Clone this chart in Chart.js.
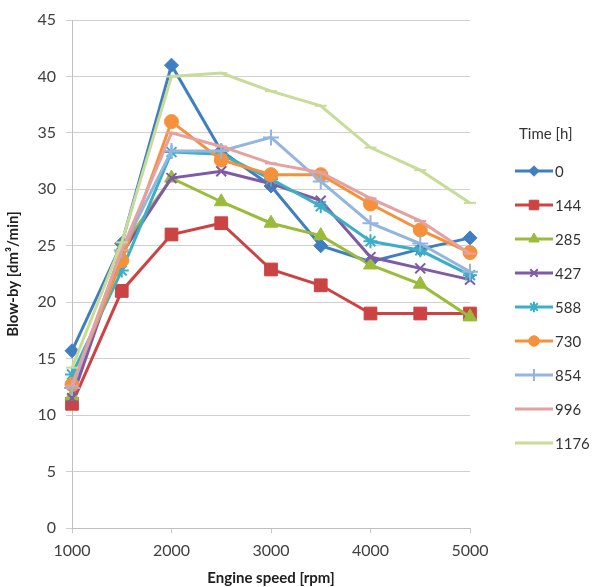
<!DOCTYPE html>
<html lang="en">
<head>
    <meta charset="UTF-8">
    <title>Blow-by</title>
    <script src="https://cdn.jsdelivr.net/npm/chart.js"></script>
    <style>
        html, body { margin: 0; padding: 0; background: #ffffff; }
        #wrap { width: 596px; height: 587px; position: relative; }
    </style>
</head>
<body>
<div id="wrap"><canvas id="blowbyChart" width="596" height="587"></canvas></div>
<script>
    // engine speed (rpm) and blow-by values per test time
    const speeds = [1000, 1500, 2000, 2500, 3000, 3500, 4000, 4500, 5000];
    const times = ['0', '144', '285', '427', '588', '730', '854', '996', '1176'];

    const h0    = [15.7, 25.2, 41.0, 33.4, 30.3, 25.0, 23.6, 24.7, 25.7];
    const h144  = [11.0, 21.0, 26.0, 27.0, 22.9, 21.5, 19.0, 19.0, 19.0];
    const h285  = [11.7, 24.8, 31.0, 28.9, 27.0, 25.9, 23.3, 21.6, 18.7];
    const h427  = [11.5, 24.3, 31.0, 31.6, 30.5, 29.0, 24.0, 23.0, 22.0];
    const h588  = [13.6, 22.8, 33.3, 33.1, 30.9, 28.5, 25.4, 24.6, 22.4];
    const h730  = [12.7, 23.7, 36.0, 32.6, 31.3, 31.3, 28.7, 26.4, 24.4];
    const h854  = [12.4, 24.6, 33.4, 33.4, 34.6, 30.7, 27.0, 25.2, 22.7];
    const h996  = [12.6, 24.6, 35.0, 33.8, 32.3, 31.5, 29.2, 27.2, 24.3];
    const h1176 = [14.2, 25.3, 40.0, 40.3, 38.7, 37.4, 33.7, 31.7, 28.8];

    const xTicks = [1000, 2000, 3000, 4000, 5000];
    const yTicks = [0, 5, 10, 15, 20, 25, 30, 35, 40, 45];

    const series = [h0, h144, h285, h427, h588, h730, h854, h996, h1176];
    const colors = ['#3f7fc1', '#cc4343', '#9bbb3b', '#7f5aa6', '#3cafc6', '#f4913a', '#93b5de', '#e6a0a0', '#c8dc98'];
    const shapes = ['rectRot', 'rect', 'triangle', 'crossRot', 'star', 'circle', 'cross', 'line', 'line'];
    const radii  = [7, 9, 8, 7, 7, 7, 8, 6, 6];

    const FONT = 'Lato, "Open Sans", sans-serif';

    const datasets = series.map(function (vals, i) {
        const thin = ['crossRot', 'star', 'cross', 'line'].indexOf(shapes[i]) >= 0;
        return {
            label: times[i],
            data: vals.map(function (v, k) { return { x: speeds[k], y: v }; }),
            borderColor: colors[i],
            backgroundColor: colors[i],
            pointBackgroundColor: colors[i],
            pointBorderColor: colors[i],
            pointStyle: shapes[i],
            pointRadius: radii[i],
            pointBorderWidth: thin ? 2 : 1,
            borderWidth: 3,
            tension: 0,
            fill: false,
            clip: false,
            order: series.length - i
        };
    });

    // legend on the right: title plus line-with-marker samples
    const sideLegend = {
        id: 'sideLegend',
        afterDraw: function (chart) {
            const ctx = chart.ctx;
            ctx.save();
            ctx.fillStyle = '#333333';
            ctx.font = '15px ' + FONT;
            ctx.textBaseline = 'middle';
            ctx.textAlign = 'left';
            ctx.fillText('Time [h]', 519, 134);
            chart.data.datasets.forEach(function (ds, i) {
                const y = 171 + i * 34;
                ctx.strokeStyle = ds.borderColor;
                ctx.lineWidth = 3;
                ctx.beginPath();
                ctx.moveTo(515, y);
                ctx.lineTo(553, y);
                ctx.stroke();
                if (ds.pointStyle !== 'line') {
                    ctx.fillStyle = ds.borderColor;
                    ctx.strokeStyle = ds.borderColor;
                    ctx.lineWidth = ds.pointBorderWidth;
                    Chart.helpers.drawPoint(ctx, {
                        pointStyle: ds.pointStyle,
                        radius: ds.pointRadius * 0.75,
                        rotation: 0,
                        borderWidth: ds.pointBorderWidth
                    }, 534, y);
                }
                ctx.fillStyle = '#333333';
                ctx.font = '15px ' + FONT;
                ctx.fillText(ds.label, 555, y + 1);
            });
            ctx.restore();
        }
    };

    new Chart(document.getElementById('blowbyChart'), {
        type: 'line',
        data: { datasets: datasets },
        options: {
            responsive: false,
            maintainAspectRatio: false,
            animation: false,
            layout: { padding: { top: 20, right: 126, left: 0, bottom: 0 } },
            plugins: {
                legend: { display: false },
                tooltip: { enabled: false }
            },
            scales: {
                x: {
                    type: 'linear',
                    min: 1000,
                    max: 5000,
                    afterBuildTicks: function (scale) {
                        scale.ticks = xTicks.map(function (v) { return { value: v }; });
                    },
                    afterFit: function (scale) { scale.height = 59; },
                    grid: { display: true, drawOnChartArea: false, drawTicks: true, tickLength: 5, color: '#c8c8c8' },
                    border: { color: '#c0c0c0', width: 1 },
                    ticks: {
                        color: '#404040',
                        padding: 8,
                        maxRotation: 0,
                        font: { family: FONT, size: 16 },
                        callback: function (v) { return String(v); }
                    },
                    title: {
                        display: true,
                        text: 'Engine speed [rpm]',
                        color: '#202020',
                        padding: { top: 0, bottom: 0 },
                        font: { family: FONT, size: 15, weight: 'bold' }
                    }
                },
                y: {
                    min: 0,
                    max: 45,
                    afterBuildTicks: function (scale) {
                        scale.ticks = yTicks.map(function (v) { return { value: v }; });
                    },
                    afterFit: function (scale) { scale.width = 72; },
                    grid: { color: '#cfcfcf', tickLength: 6, drawTicks: true },
                    border: { color: '#c0c0c0', width: 1 },
                    ticks: { color: '#404040', padding: 10, font: { family: FONT, size: 16 } },
                    title: {
                        display: true,
                        text: 'Blow-by [dm\u00b3/min]',
                        color: '#202020',
                        padding: { top: 4, bottom: 0 },
                        font: { family: FONT, size: 15, weight: 'bold' }
                    }
                }
            }
        },
        plugins: [sideLegend]
    });
</script>
</body>
</html>
